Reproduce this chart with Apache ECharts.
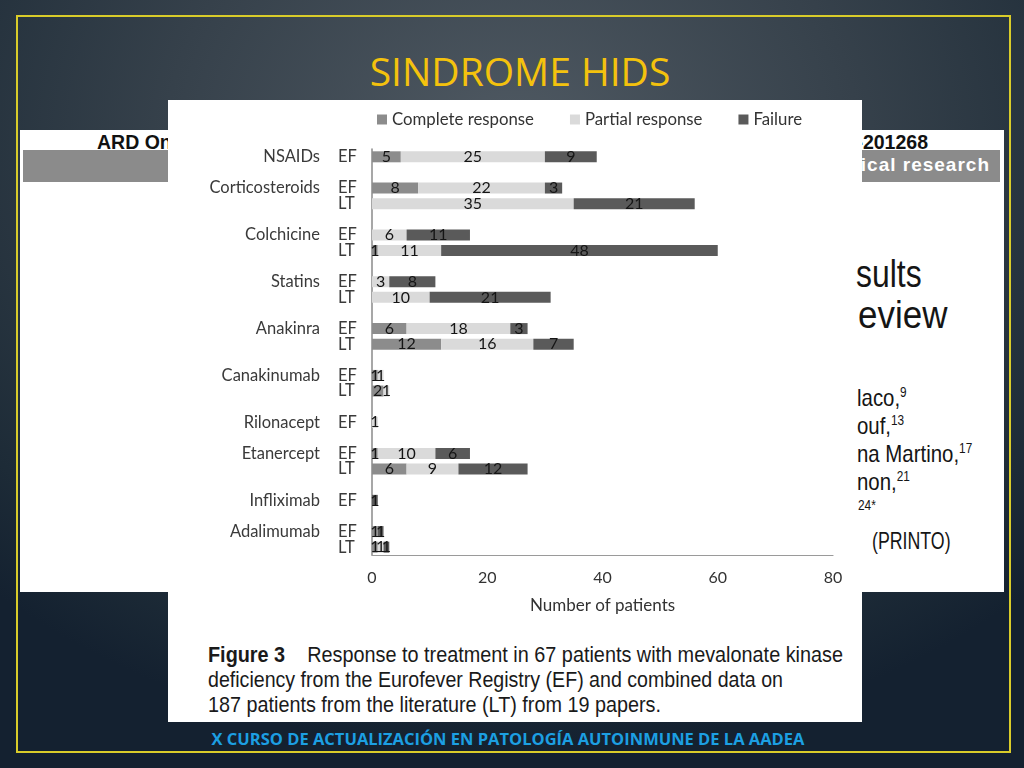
<!DOCTYPE html>
<html>
<head>
<meta charset="utf-8">
<script src="https://cdn.jsdelivr.net/npm/echarts@6/dist/echarts.min.js"></script>
<style>
  html, body { margin:0; padding:0; width:1024px; height:768px; overflow:hidden; }
  body { position:relative; background: radial-gradient(ellipse 75% 80% at 50% 18%, #4f5962 0%, #36414b 45%, #1d2b37 85%, #142130 100%); font-family: "Liberation Sans", Arial, sans-serif; }
  .abs { position:absolute; white-space:nowrap; }
  #frame { left:16px; top:15px; width:991px; height:734px; border:2px solid #d9cc2a; }
  #title { left:0; width:1040px; top:44px; text-align:center; color:#f4c20d; font-family:"Open Sans", sans-serif; font-size:39px; }
  #article { left:20px; top:130px; width:984px; height:462px; background:#fff; }
  #graybar { left:23px; top:150px; width:977px; height:32px; background:#8b8b8b; }
  #figure { left:168px; top:100px; width:694px; height:622px; background:#fff; }
  .cond { transform-origin: 0 0; font-family:"Liberation Sans", Arial, sans-serif; color:#151515; }
  .cap { left:208px; font-size:22.5px; line-height:25px; color:#1a1a1a; transform-origin:0 0; }
  #footer { left:0; width:1016px; top:727px; text-align:center; color:#1c9fe2; font-family:"Open Sans", sans-serif; font-weight:700; font-size:16.5px; }
  #chart { left:0; top:0; width:1024px; height:768px; }
  sup { font-size:58%; vertical-align: 0.65em; line-height:0; }
</style>
</head>
<body>
<div id="frame" class="abs"></div>
<div id="title" class="abs">SINDROME HIDS</div>
<div id="article" class="abs"></div>
<div id="graybar" class="abs"></div>
<div class="abs" style="left:97px; top:131px; font-weight:700; font-size:19.5px; color:#111;">ARD Online First</div>
<div class="abs" style="left:500px; width:428px; top:131px; text-align:right; font-weight:700; font-size:19.5px; color:#111;">annrheumdis-2015-201268</div>
<div class="abs" style="left:500px; width:490px; top:154px; text-align:right; font-weight:700; font-size:19px; color:#fff; letter-spacing:1px;">Clinical and epidemiological research</div>
<div id="figure" class="abs"></div>
<div class="abs cond" style="left:856px; top:253px; font-size:38px; transform:scaleX(0.84);">sults</div>
<div class="abs cond" style="left:858px; top:294px; font-size:38px; transform:scaleX(0.92);">eview</div>
<div class="abs cond" style="left:857px; top:384px; font-size:24px; line-height:28px; transform:scaleX(0.85);">laco,<sup>9</sup><br>ouf,<sup>13</sup><br>na Martino,<sup>17</sup><br>non,<sup>21</sup></div>
<div class="abs cond" style="left:858px; top:497px; font-size:14px; transform:scaleX(0.85);">24*</div>
<div class="abs cond" style="left:872px; top:527px; font-size:24px; transform:scaleX(0.74);">(PRINTO)</div>
<div class="abs cap" data-w="635" style="top:642px;"><b>Figure 3</b>&nbsp;&nbsp;&nbsp; Response to treatment in 67 patients with mevalonate kinase</div>
<div class="abs cap" data-w="575" style="top:667px;">deficiency from the Eurofever Registry (EF) and combined data on</div>
<div class="abs cap" data-w="453" style="top:692px;">187 patients from the literature (LT) from 19 papers.</div>
<div id="footer" class="abs">X CURSO DE ACTUALIZACIÓN EN PATOLOGÍA AUTOINMUNE DE LA AADEA</div>
<div id="chart" class="abs"></div>
<script>
// Rows top to bottom (blank rows are spacing slots between drugs)
const rowDrug   = ['NSAIDs','', 'Corticosteroids','','', 'Colchicine','','', 'Statins','','', 'Anakinra','','', 'Canakinumab','','', 'Rilonacept','', 'Etanercept','','', 'Infliximab','', 'Adalimumab',''];
const rowSource = ['EF','',     'EF','LT','',          'EF','LT','',     'EF','LT','',  'EF','LT','',   'EF','LT','',      'EF','',        'EF','LT','',     'EF','',         'EF','LT'];
const complete  = [5,null,      8,0,null,              0,1,null,         0,0,null,      6,12,null,      1,2,null,          0,null,         1,6,null,         0,null,          1,1];
const partial   = [25,null,     22,35,null,            6,11,null,        3,10,null,     18,16,null,     1,1,null,          1,null,         10,9,null,        0,null,          0,1];
const failure   = [9,null,      3,21,null,             11,48,null,       8,21,null,     3,7,null,       0,0,null,          0,null,         6,12,null,        1,null,          1,1];
const seriesNames = ['Complete response','Partial response','Failure'];
const xTicks = [0,20,40,60,80];
const axisTitle = 'Number of patients';

// fit caption lines to the reference widths (condensed look)
document.querySelectorAll('.cap').forEach(el => {
  const w = el.getBoundingClientRect().width;
  el.style.transform = 'scaleX(' + (parseFloat(el.dataset.w) / w) + ')';
});

const colors = ['#8c8c8c','#dadada','#5a5a5a'];
const cats = rowDrug.map((d,i)=> 'r'+i);
const chart = echarts.init(document.getElementById('chart'), null, {renderer:'canvas'});
const font = 'Lato, "Open Sans", sans-serif';
const mk = (name, data, color) => ({
  name, type:'bar', stack:'t', data, barWidth:11, itemStyle:{color}, yAxisIndex:0,
  label:{show:true, position:'inside', color:'#151515', fontSize:16, fontFamily:font,
    formatter: p => (p.value ? p.value : '')},
  emphasis:{disabled:true}, animation:false
});
chart.setOption({
  backgroundColor:'transparent',
  animation:false,
  legend:{ left:372, top:106, itemWidth:10, itemHeight:10, itemGap:36, icon:'rect',
    data:seriesNames, textStyle:{fontSize:16.8, color:'#333', fontFamily:font} },
  grid:{ left:372, right:191, top:149, bottom:213, containLabel:false },
  xAxis:{ type:'value', min:xTicks[0], max:xTicks[xTicks.length-1], interval:20,
    axisLine:{show:true, lineStyle:{color:'#9a9a9a', width:1.2}}, axisTick:{show:false}, splitLine:{show:false},
    axisLabel:{fontSize:16, color:'#333', margin:15, fontFamily:font},
    name:axisTitle, nameLocation:'middle', nameGap:42, nameTextStyle:{fontSize:17, color:'#333', fontFamily:font} },
  yAxis:[
    { type:'category', inverse:true, data:cats, position:'left',
      axisLine:{show:true, lineStyle:{color:'#8a8a8a', width:1.5}}, axisTick:{show:false},
      axisLabel:{ margin:34, align:'left', interval:0, fontSize:16.5, color:'#3a3a3a', fontFamily:font,
        formatter:(v,i)=> rowSource[i] } },
    { type:'category', inverse:true, data:cats, position:'left',
      axisLine:{show:false}, axisTick:{show:false}, splitLine:{show:false},
      axisLabel:{ margin:52, align:'right', interval:0, fontSize:16.5, color:'#3a3a3a', fontFamily:font,
        formatter:(v,i)=> rowDrug[i] } }
  ],
  series:[ mk(seriesNames[0], complete, colors[0]), mk(seriesNames[1], partial, colors[1]), mk(seriesNames[2], failure, colors[2]) ]
});
</script>
</body>
</html>
